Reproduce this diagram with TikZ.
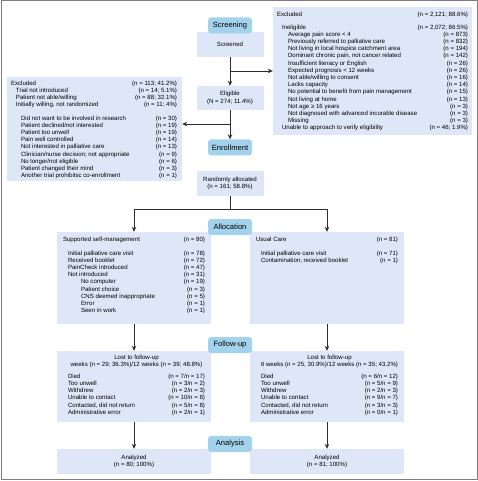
\documentclass[tikz,border=0pt]{standalone}
\usepackage{fontspec}
\setmainfont{Liberation Sans}
\usetikzlibrary{arrows.meta}
\definecolor{boxblue}{RGB}{221,231,248}
\definecolor{tabblue}{RGB}{163,211,236}
\definecolor{framegray}{RGB}{125,125,125}
\definecolor{linegray}{RGB}{45,45,45}
\newcommand{\smalltxt}{\fontsize{6.1}{7.2}\selectfont}
% two columns: label left, count right
\newcommand{\listbox}[2]{\begin{tabular*}{#1pt}{@{}l@{\extracolsep{\fill}}r@{}}#2\end{tabular*}}
\newcommand{\ctr}[1]{\multicolumn{2}{c}{\makebox[0pt]{#1}}}
\begin{document}
\begin{tikzpicture}[x=1pt, y=-1pt, line join=round, >={Stealth[length=5pt,width=4.5pt]},
    box/.style={fill=boxblue, inner sep=0pt, align=center, font=\smalltxt},
    tab/.style={fill=tabblue, rounded corners=3pt, minimum width=44pt, minimum height=16pt,
        inner sep=0pt, font=\fontsize{7.6}{9}\selectfont},
    txt/.style={anchor=north west, inner sep=0pt, font=\smalltxt},
    flow/.style={line width=0.8pt, draw=linegray}]
    \useasboundingbox (0,0) rectangle (478,481);
    \draw[framegray, line width=1pt] (1,1) rectangle (477,479.5);

    % centre column
    \node[box, minimum width=67pt, minimum height=25pt] (scrd) at (230,44.5) {Screened};
    \node[box, minimum width=67pt, minimum height=24pt] (elig) at (230,98) {Eligible\\(N = 274; 11.4\%)};
    \node[box, minimum width=67pt, minimum height=25pt] (rand) at (230,183.5) {Randomly allocated\\(n = 161; 58.8\%)};

    % excluded at screening
    \node[box, minimum width=199pt, minimum height=128pt] (exr) at (372.5,71) {};
    \node[txt] (exr-t) at ([xshift=4pt,yshift=-4pt]exr.north west) {\listbox{191}{%
        Excluded & (n = 2,121; 88.6\%)\\[5.8pt]
        \hspace*{5pt}Ineligible & (n = 2,072; 86.5\%)\\
        \hspace*{11pt}Average pain score < 4 & (n = 873)\\
        \hspace*{11pt}Previously referred to palliative care & (n = 832)\\
        \hspace*{11pt}Not living in local hospice catchment area & (n = 194)\\
        \hspace*{11pt}Dominant chronic pain, not cancer related & (n = 142)\\
        \hspace*{11pt}Insufficient literacy or English & (n = 26)\\
        \hspace*{11pt}Expected prognosis < 12 weeks & (n = 26)\\
        \hspace*{11pt}Not able/willing to consent & (n = 16)\\
        \hspace*{11pt}Lacks capacity & (n = 14)\\
        \hspace*{11pt}No potential to benefit from pain management & (n = 15)\\
        \hspace*{11pt}Not living at home & (n = 13)\\
        \hspace*{11pt}Not age ≥ 16 years & (n = 3)\\
        \hspace*{11pt}Not diagnosed with advanced incurable disease & (n = 3)\\
        \hspace*{11pt}Missing & (n = 3)\\
        \hspace*{5pt}Unable to approach to verify eligibility & (n = 46; 1.9\%)}};

    % excluded at enrollment
    \node[box, minimum width=175pt, minimum height=104pt] (exl) at (94.5,129) {};
    \node[txt] (exl-t) at ([xshift=4pt,yshift=-3pt]exl.north west) {\listbox{166}{%
        Excluded & (n = 113; 41.2\%)\\
        \hspace*{5pt}Trial not introduced & (n = 14; 5.1\%)\\
        \hspace*{5pt}Patient not able/willing & (n = 88; 32.1\%)\\
        \hspace*{5pt}Initially willing, not randomized & (n = 11; 4\%)\\[6.2pt]
        \hspace*{10pt}Did not want to be involved in research & (n = 30)\\
        \hspace*{10pt}Patient declined/not interested & (n = 19)\\
        \hspace*{10pt}Patient too unwell & (n = 19)\\
        \hspace*{10pt}Pain well controlled & (n = 14)\\
        \hspace*{10pt}Not interested in palliative care & (n = 13)\\
        \hspace*{10pt}Clinician/nurse decision; not appropriate & (n = 9)\\
        \hspace*{10pt}No longer/not eligible & (n = 6)\\
        \hspace*{10pt}Patient changed their mind & (n = 3)\\
        \hspace*{10pt}Another trial prohibitsc co-enrollment & (n = 1)}};

    % allocation
    \node[box, minimum width=154pt, minimum height=92pt] (intv) at (134,278) {};
    \node[txt] (intv-t) at ([xshift=6pt,yshift=-4pt]intv.north west) {\listbox{142}{%
        Supported self-management & (n = 80)\\[6.8pt]
        \hspace*{5pt}Initial palliative care visit & (n = 78)\\
        \hspace*{5pt}Received booklet & (n = 72)\\
        \hspace*{5pt}PainCheck introduced & (n = 47)\\
        \hspace*{5pt}Not introduced & (n = 31)\\
        \hspace*{18pt}No computer & (n = 19)\\
        \hspace*{18pt}Patient choice & (n = 3)\\
        \hspace*{18pt}CNS deemed inappropriate & (n = 5)\\
        \hspace*{18pt}Error & (n = 1)\\
        \hspace*{18pt}Seen in work & (n = 1)}};
    \node[box, minimum width=154pt, minimum height=92pt] (usual) at (327,278) {};
    \node[txt] (usual-t) at ([xshift=6pt,yshift=-4pt]usual.north west) {\listbox{142}{%
        Usual Care & (n = 81)\\[6.8pt]
        \hspace*{5pt}Initial palliative care visit & (n = 71)\\
        \hspace*{5pt}Contamination; received booklet & (n = 1)}};

    % follow-up
    \node[box, minimum width=154pt, minimum height=71pt] (lfl) at (134,386.5) {};
    \node[txt] (lfl-t) at ([xshift=11pt,yshift=-3pt]lfl.north west) {\listbox{137}{%
        \ctr{Lost to follow-up}\\
        \ctr{weeks (n = 29; 36.3\%)/12 weeks (n = 39; 48.8\%)}\\[4.8pt]
        Died & (n = 7/n = 17)\\
        Too unwell & (n = 3/n = 2)\\
        Withdrew & (n = 2/n = 3)\\
        Unable to contact & (n = 10/n = 8)\\
        Contacted, did not return & (n = 5/n = 8)\\
        Administrative error & (n = 2/n = 1)}};
    \node[box, minimum width=154pt, minimum height=71pt] (lfr) at (327,386.5) {};
    \node[txt] (lfr-t) at ([xshift=11pt,yshift=-3pt]lfr.north west) {\listbox{137}{%
        \ctr{Lost to follow-up}\\
        \ctr{6 weeks (n = 25, 30.9\%)/12 weeks (n = 35; 43.2\%)}\\[4.8pt]
        Died & (n = 6/n = 12)\\
        Too unwell & (n = 5/n = 9)\\
        Withdrew & (n = 2/n = 3)\\
        Unable to contact & (n = 9/n = 7)\\
        Contacted, did not return & (n = 3/n = 3)\\
        Administrative error & (n = 0/n = 1)}};

    % analysis
    \node[box, minimum width=154pt, minimum height=25pt] (anl) at (134,461.5) {Analyzed\\(n = 80; 100\%)};
    \node[box, minimum width=154pt, minimum height=25pt] (anr) at (327,461.5) {Analyzed\\(n = 81; 100\%)};

    % stage tabs
    \node[tab] (scrn) at (230,25.5) {Screening};
    \node[tab] (enrl) at (230,147.5) {Enrollment};
    \node[tab] (allo) at (230,227) {Allocation};
    \node[tab] (foll) at (230,345) {Follow-up};
    \node[tab] (anal) at (230,444) {Analysis};

    % connectors
    \draw[flow, ->] (scrd) -- (elig);
    \draw[flow, ->] (scrd.south |- exr.west) -- (exr.west);
    \draw[flow, ->] (elig) -- (enrl);
    \coordinate (exbr) at (230,124);
    \draw[flow, ->] (exbr) -- (exbr -| exl.east);
    \coordinate (split) at (230,209);
    \draw[flow] (rand) -- (split);
    \draw[flow, ->] (split) -| (intv);
    \draw[flow, ->] (split) -| (usual);
    \draw[flow, ->] (intv) -- (lfl);
    \draw[flow, ->] (usual) -- (lfr);
    \draw[flow, ->] (lfl) -- (anl);
    \draw[flow, ->] (lfr) -- (anr);
\end{tikzpicture}
\end{document}
